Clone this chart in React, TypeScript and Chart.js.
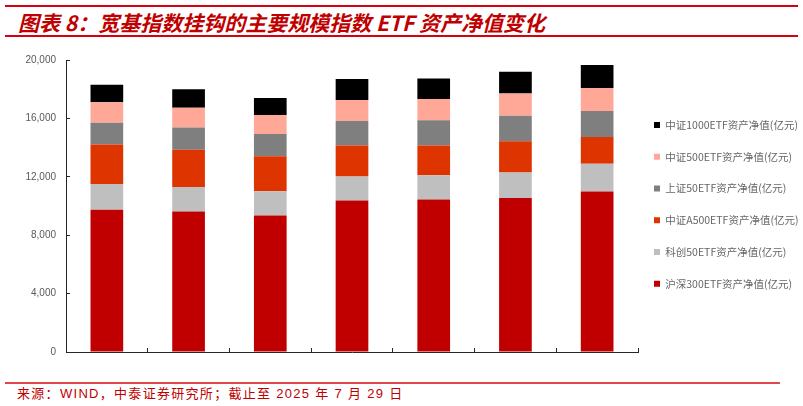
import React, { useEffect, useRef } from 'react';
import { Chart, registerables } from 'chart.js';

Chart.register(...registerables);

const categories = ['2025-01', '2025-02', '2025-03', '2025-04', '2025-05', '2025-06', '2025-07'];
const hs300 = [9750, 9620, 9350, 10380, 10450, 10540, 10990];
const kc50 = [1750, 1680, 1660, 1640, 1660, 1750, 1900];
const a500 = [2720, 2560, 2400, 2130, 2040, 2150, 1840];
const sz50 = [1480, 1520, 1520, 1680, 1720, 1750, 1770];
const zz500 = [1410, 1350, 1300, 1430, 1460, 1520, 1590];
const zz1000 = [1190, 1270, 1170, 1440, 1410, 1480, 1570];
const seriesNames = [
  '沪深300ETF资产净值(亿元)',
  '科创50ETF资产净值(亿元)',
  '中证A500ETF资产净值(亿元)',
  '上证50ETF资产净值(亿元)',
  '中证500ETF资产净值(亿元)',
  '中证1000ETF资产净值(亿元)',
];
const seriesColors = ['#C00000', '#BFBFBF', '#DD3400', '#7F7F7F', '#FFA898', '#000000'];
const yTicks = [0, 4000, 8000, 12000, 16000, 20000];

const TITLE = '图表 8：宽基指数挂钩的主要规模指数 ETF 资产净值变化';
const SOURCE = '来源：WIND，中泰证券研究所；截止至 2025 年 7 月 29 日';

export default function App() {
  const ref = useRef<HTMLCanvasElement | null>(null);

  useEffect(() => {
    if (!ref.current) return;
    const series = [hs300, kc50, a500, sz50, zz500, zz1000];
    const axisFont = { family: '"Liberation Sans", "Noto Sans CJK SC", sans-serif', size: 10 };
    const chart = new Chart(ref.current, {
      type: 'bar',
      data: {
        labels: categories,
        datasets: series.map((d, i) => ({
          label: seriesNames[i],
          data: d,
          backgroundColor: seriesColors[i],
          borderWidth: 0,
          barPercentage: 0.4,
          categoryPercentage: 1,
        })),
      },
      options: {
        animation: false,
        responsive: false,
        maintainAspectRatio: false,
        devicePixelRatio: 1,
        layout: { padding: { left: 0, right: 0, top: 15, bottom: 19 } },
        scales: {
          x: {
            stacked: true,
            grid: { drawOnChartArea: false, drawTicks: true, tickLength: -4, color: '#262626', offset: true },
            border: { color: '#262626', width: 1 },
            ticks: { color: '#595959', font: axisFont, padding: 10 },
            afterFit: (s: any) => { s.height = 7; },
          },
          y: {
            stacked: true,
            min: 0,
            max: 20000,
            afterBuildTicks: (s: any) => { s.ticks = yTicks.map((v) => ({ value: v })); },
            grid: { drawOnChartArea: false, drawTicks: true, tickLength: -4, color: '#262626' },
            border: { color: '#262626', width: 1 },
            ticks: {
              color: '#595959',
              font: axisFont,
              padding: 14,
              callback: (v: any) => Number(v).toLocaleString('en-US'),
            },
            afterFit: (s: any) => { s.width = 66; },
          },
        },
        plugins: {
          legend: {
            position: 'right',
            reverse: true,
            maxWidth: 165,
            labels: {
              boxWidth: 6,
              boxHeight: 6,
              padding: 16,
              color: '#666666',
              font: { family: '"Noto Sans CJK SC", sans-serif', size: 10.5, lineHeight: 1.5 },
              generateLabels: (c: any) => {
                const items = (Chart.defaults.plugins.legend.labels as any).generateLabels(c);
                return items.map((it: any) => ({ ...it, text: [it.text], lineWidth: 0 }));
              },
            },
          },
          tooltip: { enabled: false },
        },
      } as any,
    });
    return () => chart.destroy();
  }, []);

  return (
    <div style={{ position: 'fixed', left: 0, top: 0, width: 803, height: 406, background: '#fff', overflow: 'hidden' }}>
      <div style={{ position: 'absolute', left: 5, top: 5, width: 793, height: 2, background: '#D7000F' }} />
      <div
        style={{
          position: 'absolute',
          left: 18,
          top: 12,
          fontFamily: '"Noto Sans CJK SC", sans-serif',
          fontSize: 21,
          lineHeight: '21px',
          fontStyle: 'italic',
          fontWeight: 700,
          color: '#C00000',
          whiteSpace: 'nowrap',
        }}
      >
        {TITLE}
      </div>
      <div style={{ position: 'absolute', left: 5, top: 35, width: 793, height: 1.5, background: '#D7000F' }} />
      <canvas ref={ref} width={803} height={338} style={{ position: 'absolute', left: 0, top: 40, width: 803, height: 338 }} />
      <div style={{ position: 'absolute', left: 5, top: 382, width: 775, height: 1.5, background: '#E0474C' }} />
      <div
        style={{
          position: 'absolute',
          left: 17,
          top: 387,
          fontFamily: '"Liberation Sans", "Noto Sans CJK SC", sans-serif',
          fontSize: 13,
          lineHeight: '13px',
          letterSpacing: '1.3px',
          color: '#C00000',
          whiteSpace: 'nowrap',
        }}
      >
        {SOURCE}
      </div>
    </div>
  );
}
